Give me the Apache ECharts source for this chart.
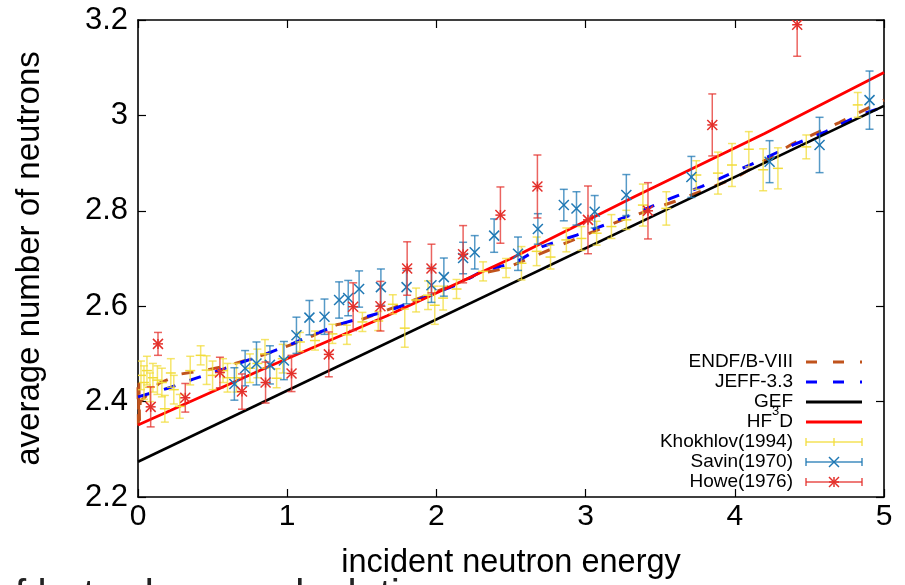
<!DOCTYPE html>
<html>
<head>
<meta charset="utf-8">
<script src="https://cdn.jsdelivr.net/npm/echarts@6/dist/echarts.min.js"></script>
<style>
html, body { margin: 0; padding: 0; background: #fff; }
#chart { width: 905px; height: 585px; }
</style>
</head>
<body>
<div id="chart"></div>
<script>
// axis ticks
const xTicks = [0, 1, 2, 3, 4, 5];
const yTicks = [2.2, 2.4, 2.6, 2.8, 3, 3.2];

// evaluated curves: [energy, nu]
const endfCurve = [
  [0, 2.43], [0.003, 2.35], [0.006, 2.44], [0.01, 2.36], [0.015, 2.40],
  [0.14, 2.438], [0.29, 2.458], [0.46, 2.466], [0.63, 2.478], [0.86, 2.50],
  [1.11, 2.529], [1.33, 2.561], [1.49, 2.571], [1.79, 2.606], [1.94, 2.623],
  [2.30, 2.669], [2.46, 2.679], [2.94, 2.742], [3.27, 2.784], [3.6, 2.82],
  [4.0, 2.868], [4.39, 2.941], [4.7, 2.985], [5.0, 3.032]
];
const jeffCurve = [
  [0, 2.41], [0.2, 2.428], [0.37, 2.447], [0.54, 2.465], [0.70, 2.483],
  [0.86, 2.50], [1.04, 2.522], [1.17, 2.54], [1.37, 2.564], [1.69, 2.592],
  [1.88, 2.613], [2.16, 2.648], [2.32, 2.676], [2.52, 2.69], [2.71, 2.725],
  [2.94, 2.749], [3.16, 2.774], [3.36, 2.798], [3.57, 2.826], [3.78, 2.851],
  [4.0, 2.882], [4.18, 2.907], [4.39, 2.938], [4.61, 2.966], [4.84, 3.001],
  [5.0, 3.018]
];
const gefCurve = [[0, 2.274], [5, 3.02]];
const hf3dCurve = [
  [0, 2.351], [0.85, 2.47], [1.67, 2.58], [2.5, 2.70], [3.33, 2.83],
  [4.2, 2.962], [5, 3.09]
];

// experiments: [energy, nu, error]
const khokhlov = [
  [0.02, 2.455, 0.03], [0.04, 2.44, 0.035], [0.06, 2.465, 0.03], [0.08, 2.43, 0.03],
  [0.10, 2.45, 0.03], [0.13, 2.445, 0.03], [0.16, 2.44, 0.03], [0.18, 2.385, 0.028],
  [0.22, 2.46, 0.03], [0.24, 2.425, 0.03], [0.28, 2.39, 0.025], [0.35, 2.465, 0.03],
  [0.42, 2.497, 0.02], [0.46, 2.466, 0.03], [0.50, 2.455, 0.03], [0.57, 2.465, 0.025],
  [0.60, 2.45, 0.03], [0.66, 2.45, 0.03], [0.75, 2.47, 0.03], [0.80, 2.48, 0.03],
  [0.851, 2.50, 0.03], [0.929, 2.449, 0.02], [0.97, 2.49, 0.03], [1.085, 2.525, 0.02],
  [1.186, 2.528, 0.02], [1.303, 2.542, 0.02], [1.40, 2.540, 0.02], [1.504, 2.567, 0.02],
  [1.610, 2.569, 0.02], [1.708, 2.604, 0.02], [1.788, 2.554, 0.04], [1.864, 2.613, 0.025],
  [1.944, 2.623, 0.03], [1.989, 2.602, 0.04], [2.045, 2.617, 0.025], [2.135, 2.636, 0.02],
  [2.313, 2.673, 0.02], [2.467, 2.68, 0.02], [2.570, 2.69, 0.035], [2.672, 2.715, 0.03],
  [2.765, 2.703, 0.025], [2.871, 2.739, 0.025], [2.972, 2.742, 0.025], [3.074, 2.753, 0.025],
  [3.173, 2.767, 0.025], [3.273, 2.781, 0.02], [3.384, 2.812, 0.044], [3.541, 2.805, 0.035],
  [3.742, 2.875, 0.03], [3.887, 2.879, 0.044], [3.981, 2.896, 0.045], [4.094, 2.929, 0.037],
  [4.19, 2.886, 0.044], [4.289, 2.889, 0.043], [4.479, 2.934, 0.025], [4.824, 3.022, 0.026]
];
const savin = [
  [0.646, 2.437, 0.034], [0.718, 2.470, 0.037], [0.794, 2.480, 0.045], [0.884, 2.477, 0.04],
  [0.978, 2.486, 0.04], [1.062, 2.539, 0.038], [1.149, 2.576, 0.036], [1.250, 2.578, 0.037],
  [1.348, 2.613, 0.038], [1.409, 2.617, 0.037], [1.482, 2.636, 0.038], [1.628, 2.640, 0.038],
  [1.800, 2.640, 0.035], [1.967, 2.644, 0.036], [2.050, 2.661, 0.04], [2.179, 2.701, 0.033],
  [2.257, 2.713, 0.035], [2.387, 2.748, 0.035], [2.547, 2.710, 0.035], [2.680, 2.762, 0.032],
  [2.854, 2.812, 0.033], [2.939, 2.805, 0.035], [3.061, 2.798, 0.034], [3.273, 2.833, 0.043],
  [3.709, 2.871, 0.043], [4.233, 2.903, 0.044], [4.568, 2.938, 0.058], [4.903, 3.032, 0.061]
];
const howe = [
  [0.134, 2.521, 0.024], [0.085, 2.389, 0.042], [0.317, 2.408, 0.03], [0.549, 2.461, 0.032],
  [0.697, 2.421, 0.037], [0.855, 2.44, 0.043], [1.029, 2.459, 0.038], [1.279, 2.499, 0.047],
  [1.442, 2.599, 0.05], [1.625, 2.60, 0.052], [1.804, 2.679, 0.056], [1.967, 2.679, 0.051],
  [2.179, 2.709, 0.06], [2.429, 2.791, 0.059], [2.677, 2.851, 0.066], [3.016, 2.781, 0.071],
  [3.418, 2.80, 0.059], [3.849, 2.98, 0.065], [4.418, 3.19, 0.066]
];

const FONT = 'Liberation Sans, Arial, Helvetica, sans-serif';
const C_ENDF = '#c0531c';
const C_JEFF = '#0000ff';
const C_GEF = '#000000';
const C_HF3D = '#ff0000';
const C_KHOK = '#f2dc3a';
const C_SAVIN = '#1f78b4';
const C_HOWE = '#e4302b';

function markerShapes(kind, cx, cy, color) {
  const s = 5;
  const st = { stroke: color, lineWidth: 1.5 };
  const seg = (x1, y1, x2, y2) => ({ type: 'line', shape: { x1, y1, x2, y2 }, style: st });
  if (kind === 'plus') return [seg(cx - s, cy, cx + s, cy)];
  if (kind === 'cross') return [seg(cx - s, cy - s, cx + s, cy + s), seg(cx - s, cy + s, cx + s, cy - s)];
  return [
    seg(cx - s, cy - s, cx + s, cy + s), seg(cx - s, cy + s, cx + s, cy - s),
    seg(cx - s, cy, cx + s, cy), seg(cx, cy - s, cx, cy + s)
  ];
}

function errorBarRender(kind, color) {
  return function (params, api) {
    const x = api.value(0), y = api.value(1), e = api.value(2);
    const c = api.coord([x, y]);
    const top = api.coord([x, y + e]);
    const bot = api.coord([x, y - e]);
    const cap = 4;
    const bar = { stroke: color, lineWidth: 1.5, opacity: 0.75 };
    const children = [
      { type: 'line', shape: { x1: c[0], y1: top[1], x2: c[0], y2: bot[1] }, style: bar },
      { type: 'line', shape: { x1: c[0] - cap, y1: top[1], x2: c[0] + cap, y2: top[1] }, style: bar },
      { type: 'line', shape: { x1: c[0] - cap, y1: bot[1], x2: c[0] + cap, y2: bot[1] }, style: bar }
    ].concat(markerShapes(kind, c[0], c[1], color));
    return { type: 'group', children };
  };
}

function axisCommon(extra) {
  return Object.assign({
    type: 'value',
    axisLine: { show: true, onZero: false, lineStyle: { color: '#000', width: 1.6 } },
    axisTick: { show: true, inside: true, length: 8, lineStyle: { color: '#000', width: 1.2 } },
    splitLine: { show: false }
  }, extra);
}

const xMin = xTicks[0], xMax = xTicks[xTicks.length - 1];
const yMin = yTicks[0], yMax = yTicks[yTicks.length - 1];

// legend rows built as graphic elements (gnuplot style key)
const legendRows = [
  { label: 'ENDF/B-VIII', kind: 'dash', color: C_ENDF },
  { label: 'JEFF-3.3', kind: 'dash', color: C_JEFF },
  { label: 'GEF', kind: 'solid', color: C_GEF },
  { label: '{a|HF}{s|3}{a|D}', kind: 'solid', color: C_HF3D, dy: -4 },
  { label: 'Khokhlov(1994)', kind: 'plus', color: C_KHOK },
  { label: 'Savin(1970)', kind: 'cross', color: C_SAVIN },
  { label: 'Howe(1976)', kind: 'star', color: C_HOWE }
];
const legendGraphics = [];
legendRows.forEach((r, i) => {
  const y = 362 + i * 20;
  legendGraphics.push({
    type: 'text', x: 793, y: y + (r.dy || 0),
    style: {
      text: r.label, font: '19px ' + FONT, fill: '#000', align: 'right', verticalAlign: 'middle',
      rich: {
        a: { fontSize: 19, fontFamily: FONT, fill: '#000', lineHeight: 26, verticalAlign: 'bottom' },
        s: { fontSize: 13, fontFamily: FONT, fill: '#000', lineHeight: 19, verticalAlign: 'top' }
      }
    }
  });
  const x1 = 806, x2 = 862;
  if (r.kind === 'dash' || r.kind === 'solid') {
    legendGraphics.push({
      type: 'line', shape: { x1, y1: y, x2, y2: y },
      style: { stroke: r.color, lineWidth: 3, lineDash: r.kind === 'dash' ? [11, 16] : null }
    });
  } else {
    const st = { stroke: r.color, lineWidth: 1.5, opacity: 0.85 };
    legendGraphics.push({ type: 'line', shape: { x1, y1: y, x2, y2: y }, style: st });
    legendGraphics.push({ type: 'line', shape: { x1, y1: y - 4, x2: x1, y2: y + 4 }, style: st });
    legendGraphics.push({ type: 'line', shape: { x1: x2, y1: y - 4, x2, y2: y + 4 }, style: st });
    if (r.kind === 'plus') {
      legendGraphics.push({ type: 'line', shape: { x1: 834, y1: y - 4, x2: 834, y2: y + 4 }, style: st });
    } else {
      markerShapes(r.kind, 834, y, r.color).forEach(m => legendGraphics.push(m));
    }
  }
});

const chart = echarts.init(document.getElementById('chart'), null, { renderer: 'canvas' });
chart.setOption({
  animation: false,
  backgroundColor: '#fff',
  grid: { left: 138, top: 20, right: 21, bottom: 88 },
  textStyle: { fontFamily: FONT },
  xAxis: [
    axisCommon({
      position: 'bottom', min: xMin, max: xMax, interval: 1,
      axisLabel: { fontSize: 30, color: '#000', margin: 5, fontFamily: FONT },
      name: 'incident neutron energy', nameLocation: 'middle', nameGap: 50,
      nameTextStyle: { fontSize: 32.5, color: '#000', fontFamily: FONT }
    }),
    axisCommon({ position: 'top', min: xMin, max: xMax, interval: 1, axisLabel: { show: false } })
  ],
  yAxis: [
    axisCommon({
      position: 'left', min: yMin, max: yMax, interval: 0.2,
      axisLabel: { fontSize: 31, color: '#000', margin: 10, fontFamily: FONT },
      name: 'average number of neutrons', nameLocation: 'middle', nameGap: 92, nameRotate: 90,
      nameTextStyle: { fontSize: 33, color: '#000', fontFamily: FONT }
    }),
    axisCommon({ position: 'right', min: yMin, max: yMax, interval: 0.2, axisLabel: { show: false } })
  ],
  graphic: legendGraphics.concat([
    {
      type: 'text', x: -8, y: 576,
      style: { text: 'of beta-decay calculation', font: '41px ' + FONT, fill: '#222', verticalAlign: 'top' }
    }
  ]),
  series: [
    { name: 'ENDF/B-VIII', type: 'line', data: endfCurve, showSymbol: false, lineStyle: { color: C_ENDF, width: 3, type: [12, 15] }, z: 2 },
    { name: 'JEFF-3.3', type: 'line', data: jeffCurve, showSymbol: false, lineStyle: { color: C_JEFF, width: 3, type: [12, 15] }, z: 2 },
    { name: 'GEF', type: 'line', data: gefCurve, showSymbol: false, lineStyle: { color: C_GEF, width: 2.6 }, z: 2 },
    { name: 'HF3D', type: 'line', data: hf3dCurve, showSymbol: false, lineStyle: { color: C_HF3D, width: 2.8 }, z: 2 },
    { name: 'Khokhlov(1994)', type: 'custom', data: khokhlov, renderItem: errorBarRender('plus', C_KHOK), clip: true, z: 3 },
    { name: 'Savin(1970)', type: 'custom', data: savin, renderItem: errorBarRender('cross', C_SAVIN), clip: true, z: 4 },
    { name: 'Howe(1976)', type: 'custom', data: howe, renderItem: errorBarRender('star', C_HOWE), clip: true, z: 5 }
  ]
});
</script>
</body>
</html>
